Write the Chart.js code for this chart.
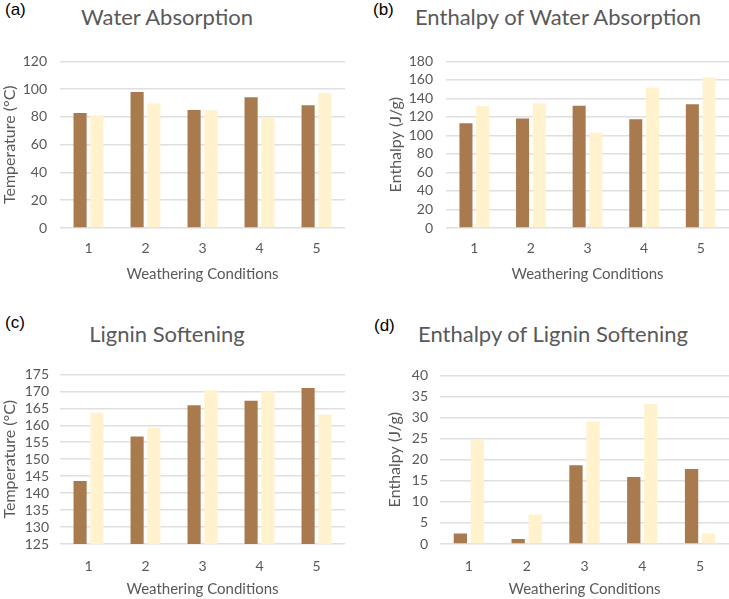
<!DOCTYPE html>
<html>
<head>
<meta charset="utf-8">
<script src="https://cdn.jsdelivr.net/npm/chart.js@4.4.0/dist/chart.umd.min.js"></script>
<style>
    html, body { margin: 0; padding: 0; background: #fff; }
    #page { position: relative; width: 729px; height: 599px; overflow: hidden; }
    .panel { position: absolute; }
    .tag { position: absolute; font-family: 'Liberation Sans', Arial, sans-serif; font-size: 17px; color: #000; line-height: 20px; }
    .title { position: absolute; font-family: Lato, sans-serif; font-size: 22px; color: #595959; line-height: 26px; white-space: nowrap; transform: translateX(-50%); }
</style>
</head>
<body>
<div id="page">
    <div class="tag" style="left:5px; top:0px;">(a)</div>
    <div class="tag" style="left:373px; top:0px;">(b)</div>
    <div class="tag" style="left:5px; top:313px;">(c)</div>
    <div class="tag" style="left:374px; top:316px;">(d)</div>

    <div class="title" style="left:167px; top:4px;">Water Absorption</div>
    <div class="title" style="left:558px; top:4px;">Enthalpy of Water Absorption</div>
    <div class="title" style="left:167px; top:321px;">Lignin Softening</div>
    <div class="title" style="left:553px; top:321px;">Enthalpy of Lignin Softening</div>

    <div class="panel" style="left:0px; top:40px; width:345px; height:250px;"><canvas id="chartA"></canvas></div>
    <div class="panel" style="left:365px; top:40px; width:364px; height:250px;"><canvas id="chartB"></canvas></div>
    <div class="panel" style="left:0px; top:355px; width:345px; height:244px;"><canvas id="chartC"></canvas></div>
    <div class="panel" style="left:365px; top:355px; width:364px; height:244px;"><canvas id="chartD"></canvas></div>
</div>

<script>
// Weathering condition categories (shared by all four panels)
const categories = ['1', '2', '3', '4', '5'];

// (a) Water absorption temperature, °C
const waterTempDark = [82.8, 98, 85, 94.2, 88.5];
const waterTempLight = [81, 89.6, 84.8, 79.8, 97.3];

// (b) Enthalpy of water absorption, J/g
const waterEnthDark = [113.3, 118.4, 132, 117.4, 133.7];
const waterEnthLight = [131.7, 134.7, 103, 151.7, 162.6];

// (c) Lignin softening temperature, °C
const ligninTempDark = [143.6, 156.7, 165.9, 167.2, 171];
const ligninTempLight = [163.7, 159.2, 170.3, 170, 163.2];

// (d) Enthalpy of lignin softening, J/g
const ligninEnthDark = [2.5, 1.2, 18.7, 15.9, 17.8];
const ligninEnthLight = [24.8, 7.0, 29.1, 33.2, 2.5];

const darkColor = '#A87A4E';
const lightColor = '#FFF2CC';
const textColor = '#595959';
const gridColor = '#E0E0E0';

function makePanel(canvasId, opts) {
    const ctx = document.getElementById(canvasId).getContext('2d');
    return new Chart(ctx, {
        type: 'bar',
        data: {
            labels: categories,
            datasets: [
                { label: 'Series 1', data: opts.dark, backgroundColor: darkColor, borderWidth: 0 },
                { label: 'Series 2', data: opts.light, backgroundColor: lightColor, borderWidth: 0 }
            ]
        },
        options: {
            responsive: true,
            maintainAspectRatio: false,
            animation: false,
            layout: { padding: { top: opts.padTop, right: 0, bottom: 0, left: 0 } },
            datasets: { bar: { categoryPercentage: 0.59, barPercentage: 0.78 } },
            plugins: {
                legend: { display: false },
                tooltip: { enabled: false }
            },
            scales: {
                x: {
                    grid: { display: false, drawTicks: false },
                    border: { display: false },
                    ticks: { color: textColor, font: { family: 'Lato', size: 14 }, padding: opts.xTickPad },
                    title: {
                        display: true,
                        text: 'Weathering Conditions',
                        color: textColor,
                        font: { family: 'Lato', size: 15 },
                        padding: { top: 0, bottom: opts.xTitlePad }
                    },
                    afterFit: (scale) => { scale.height = opts.xHeight; }
                },
                y: {
                    min: opts.min,
                    max: opts.max,
                    grid: { color: gridColor, lineWidth: 1.5, drawTicks: false },
                    border: { display: false },
                    ticks: {
                        stepSize: opts.step,
                        autoSkip: false,
                        color: textColor,
                        font: { family: 'Lato', size: 14 },
                        padding: opts.tickPad
                    },
                    title: {
                        display: true,
                        text: opts.yTitle,
                        color: textColor,
                        font: { family: 'Lato', size: 16 },
                        padding: { top: opts.yTitlePad, bottom: 0 }
                    },
                    afterFit: (scale) => { scale.width = opts.yWidth; }
                }
            }
        }
    });
}

document.addEventListener('DOMContentLoaded', () => {
    makePanel('chartA', {
        dark: waterTempDark, light: waterTempLight,
        min: 0, max: 120, step: 20, yTitle: 'Temperature (°C)',
        padTop: 12, xHeight: 62, yWidth: 60, tickPad: 13, yTitlePad: 0,
        xTickPad: 12, xTitlePad: 7
    });
    makePanel('chartB', {
        dark: waterEnthDark, light: waterEnthLight,
        min: 0, max: 180, step: 20, yTitle: 'Enthalpy (J/g)',
        padTop: 12, xHeight: 62, yWidth: 81, tickPad: 13, yTitlePad: 21,
        xTickPad: 12, xTitlePad: 7
    });
    makePanel('chartC', {
        dark: ligninTempDark, light: ligninTempLight,
        min: 125, max: 175, step: 5, yTitle: 'Temperature (°C)',
        padTop: 13, xHeight: 55, yWidth: 60, tickPad: 11, yTitlePad: 0,
        xTickPad: 14, xTitlePad: 1
    });
    makePanel('chartD', {
        dark: ligninEnthDark, light: ligninEnthLight,
        min: 0, max: 40, step: 5, yTitle: 'Enthalpy (J/g)',
        padTop: 13, xHeight: 55, yWidth: 75, tickPad: 12, yTitlePad: 20,
        xTickPad: 14, xTitlePad: 1
    });
});
</script>
</body>
</html>
